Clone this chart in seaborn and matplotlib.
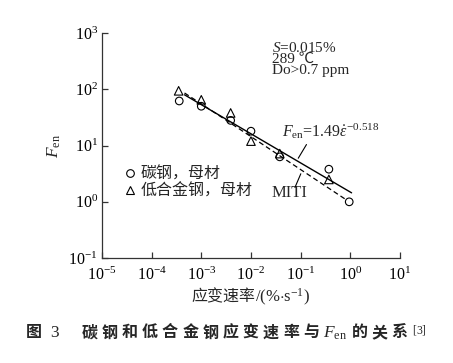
import numpy as np
import seaborn as sns
import matplotlib.pyplot as plt
from matplotlib.lines import Line2D
from matplotlib.offsetbox import TextArea, HPacker, AnchoredOffsetbox

# strain rate (%/s) and Fen
cs_rate = [3.6e-4, 1.0e-3, 3.9e-3, 1.0e-2, 3.8e-2, 0.37, 0.95]
cs_fen = [62, 50, 28, 18, 6.3, 3.8, 1.0]
la_rate = [3.5e-4, 1.0e-3, 3.9e-3, 1.0e-2, 3.8e-2, 0.37]
la_fen = [94, 65, 38, 12, 7.2, 2.5]
fit_rate = [4.6e-4, 1.06]          # Fen = 1.49 * rate^-0.518
miti_rate = [4.6e-4, 2.7e-3, 0.85]
miti_fen = [86, 31, 1.07]
xticks = [1e-5, 1e-4, 1e-3, 1e-2, 1e-1, 1e0, 1e1]
yticks = [1e-1, 1e0, 1e1, 1e2, 1e3]

fit_fen = [1.49 * r ** -0.518 for r in fit_rate]

sns.set_style('ticks')
plt.rcParams['font.family'] = ['Liberation Serif', 'Noto Sans CJK SC']
plt.rcParams['mathtext.fontset'] = 'custom'
plt.rcParams['mathtext.rm'] = 'Liberation Serif'
plt.rcParams['mathtext.it'] = 'Liberation Serif:italic'
plt.rcParams['mathtext.bf'] = 'Liberation Serif:bold'
cjk = 'Noto Sans CJK SC'
fs = 11.5

fig = plt.figure(figsize=(4.53, 3.63), dpi=100)
ax = fig.add_axes([0.225, 0.289, 0.658, 0.62])

sns.lineplot(x=fit_rate, y=fit_fen, color='black', lw=1.0, ax=ax)
sns.lineplot(x=miti_rate, y=miti_fen, color='black', lw=0.9, linestyle=(0, (4, 2.5)), ax=ax)
sns.scatterplot(x=cs_rate, y=cs_fen, marker='o', s=30, facecolors='none',
                edgecolor='black', linewidth=0.8, ax=ax, zorder=3)
sns.scatterplot(x=la_rate, y=la_fen, marker='^', s=38, facecolors='none',
                edgecolor='black', linewidth=0.8, ax=ax, zorder=3)

ax.set_xscale('log')
ax.set_yscale('log')
ax.set_xlim(1e-5, 1e1)
ax.set_ylim(1e-1, 1e3)
ax.set_xticks(xticks)
ax.set_yticks(yticks)
ax.minorticks_off()
ax.tick_params(direction='in', length=4, width=0.9, labelsize=fs, colors='#333333',
               labelcolor='black', pad=3)
ax.tick_params(axis='x', pad=6)
for s in ['top', 'right']:
    ax.spines[s].set_visible(False)
for s in ['left', 'bottom']:
    ax.spines[s].set_linewidth(0.9)
    ax.spines[s].set_color('#333333')

ax.set_ylabel(r'$F_{\rm en}$', fontsize=12.5, labelpad=4)

# annotations
ax.text(0.57, 0.885, '$S$=0.015%\n289 ℃\nDo>0.7 ppm', transform=ax.transAxes,
        fontsize=11, va='center', linespacing=0.82)
ax.text(0.604, 0.564, r'$F_{\rm en}$=1.49$\dot{\varepsilon}^{-0.518}$',
        transform=ax.transAxes, fontsize=fs, va='center')
ax.text(0.570, 0.289, 'MITI', transform=ax.transAxes, fontsize=12, va='center')
ax.annotate('', xy=(0.0838, 5.4), xytext=(0.14, 11.5),
            arrowprops=dict(arrowstyle='-', color='black', lw=0.8))
ax.annotate('', xy=(0.106, 3.5), xytext=(0.073, 1.62),
            arrowprops=dict(arrowstyle='-', color='black', lw=0.8))

handles = [Line2D([], [], marker='o', ls='', mfc='none', mec='black', ms=5.5, mew=0.8),
           Line2D([], [], marker='^', ls='', mfc='none', mec='black', ms=6, mew=0.8)]
ax.legend(handles, ['碳钢，母材', '低合金钢，母材'], loc='upper left',
          bbox_to_anchor=(0.03, 0.46), frameon=False,
          handletextpad=0.15, handlelength=1.0, labelspacing=0.0, borderpad=0.2,
          prop={'family': cjk, 'size': 11.5})

# x label: Chinese + math pieces
xl = HPacker(children=[TextArea('应变速率', textprops=dict(family=cjk, size=11.5)),
                       TextArea(r'/(%$\cdot$s$^{-1}$)', textprops=dict(size=12))],
             align='baseline', pad=0, sep=0)
fig.add_artist(AnchoredOffsetbox(loc='center', child=xl, frameon=False, pad=0,
                                 bbox_to_anchor=(0.553, 1 - 297 / 363),
                                 bbox_transform=fig.transFigure))

# caption, letter-spaced like the original
cap_kw = dict(family=cjk, size=11.5, weight='bold')
g1 = HPacker(children=[TextArea('图', textprops=cap_kw),
                       TextArea('3', textprops=dict(size=12.5))],
             align='baseline', pad=0, sep=6)
rest = [TextArea(c, textprops=cap_kw) for c in '碳钢和低合金钢应变速率与']
rest += [TextArea(r'$F_{\rm en}$', textprops=dict(size=12.5))]
rest += [TextArea(c, textprops=cap_kw) for c in '的关系']
rest += [TextArea(r'$^{[3]}$', textprops=dict(size=12))]
g2 = HPacker(children=rest, align='baseline', pad=0, sep=3.0)
cap = HPacker(children=[g1, g2], align='baseline', pad=0, sep=16)
fig.add_artist(AnchoredOffsetbox(loc='center', child=cap, frameon=False, pad=0,
                                 bbox_to_anchor=(0.5, 1 - 333 / 363),
                                 bbox_transform=fig.transFigure))

fig.savefig('out.png', dpi=100, facecolor='white')
